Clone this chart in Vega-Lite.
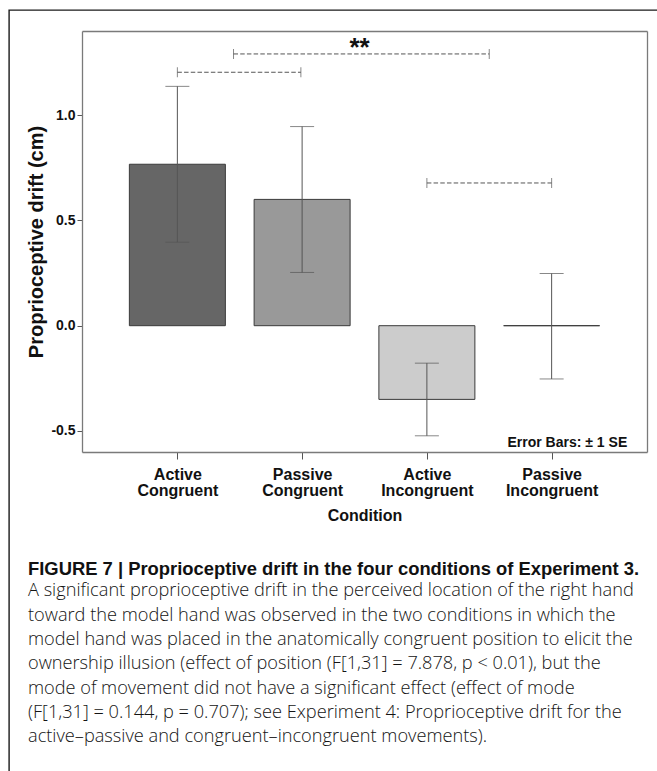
{
  "$schema": "https://vega.github.io/schema/vega-lite/v6.json",
  "width": 648,
  "height": 761,
  "autosize": {"type": "none"},
  "padding": {"left": 9, "top": 10, "right": 0, "bottom": 0},
  "background": "white",
  "config": {
    "font": "Liberation Sans",
    "view": {"stroke": "#1a1a1a", "strokeWidth": 1.4, "strokeDash": [648, 1409, 761, 0], "fill": "white"},
    "axis": {"grid": false, "labelFlush": false, "labelOverlap": false}
  },
  "datasets": {
    "bars": [
      {"cond": "Active Congruent", "x": 1, "mean": 0.767, "lo": 0.397, "hi": 1.137},
      {"cond": "Passive Congruent", "x": 2, "mean": 0.600, "lo": 0.253, "hi": 0.946},
      {"cond": "Active Incongruent", "x": 3, "mean": -0.350, "lo": -0.523, "hi": -0.178},
      {"cond": "Passive Incongruent", "x": 4, "mean": 0.0, "lo": -0.253, "hi": 0.248}
    ],
    "brackets": [
      {"x": 1.0, "x2": 1.99, "y": 1.204},
      {"x": 1.45, "x2": 3.5, "y": 1.291},
      {"x": 3.0, "x2": 4.0, "y": 0.678}
    ],
    "stars": [{"x": 2.46, "y": 1.28, "label": "**"}],
    "note": [{"x": 4.606, "y": -0.574, "label": "Error Bars: ± 1 SE"}]
  },
  "title": {
    "text": "FIGURE 7 | Proprioceptive drift in the four conditions of Experiment 3.",
    "subtitle": [
      "A significant proprioceptive drift in the perceived location of the right hand",
      "toward the model hand was observed in the two conditions in which the",
      "model hand was placed in the anatomically congruent position to elicit the",
      "ownership illusion (effect of position (F[1,31] = 7.878, p < 0.01), but the",
      "mode of movement did not have a significant effect (effect of mode",
      "(F[1,31] = 0.144, p = 0.707); see Experiment 4: Proprioceptive drift for the",
      "active–passive and congruent–incongruent movements)."
    ],
    "orient": "bottom",
    "anchor": "start",
    "frame": "group",
    "offset": -211,
    "dx": 19,
    "font": "Liberation Sans",
    "fontSize": 18.4,
    "fontWeight": "bold",
    "color": "#111111",
    "subtitleFont": "Open Sans",
    "subtitleFontSize": 18.2,
    "subtitleFontWeight": 300,
    "subtitleColor": "#141414",
    "subtitleLineHeight": 24.3,
    "subtitlePadding": 4
  },
  "resolve": {"axis": {"x": "independent", "y": "independent"}},
  "layer": [
    {
      "data": {"name": "bars"},
      "mark": {"type": "bar", "width": 96, "stroke": "#3a3a3a", "strokeWidth": 1},
      "encoding": {
        "x": {
          "field": "x", "type": "quantitative",
          "scale": {"domain": [0.2756, 4.7244], "range": [73, 638], "nice": false, "zero": false},
          "axis": {
            "orient": "bottom", "offset": -319, "values": [1, 2, 3, 4],
            "labelExpr": "datum.value == 1 ? ['Active','Congruent'] : datum.value == 2 ? ['Passive','Congruent'] : datum.value == 3 ? ['Active','Incongruent'] : ['Passive','Incongruent']",
            "labelFont": "Liberation Sans", "labelFontSize": 16, "labelFontWeight": "bold", "labelColor": "#111111",
            "labelLineHeight": 16.5, "labelPadding": 7, "labelBaseline": "top",
            "tickSize": 7, "tickColor": "#555555", "tickWidth": 1,
            "domainColor": "#7a7a7a", "domainWidth": 1.3,
            "title": "Condition", "titleFont": "Liberation Sans", "titleFontSize": 16, "titleFontWeight": "bold", "titleColor": "#111111", "titlePadding": 9
          }
        },
        "y": {
          "field": "mean", "type": "quantitative",
          "scale": {"domain": [-0.6, 1.4], "range": [442, 21], "nice": false, "zero": false},
          "axis": {
            "orient": "left", "offset": -73, "values": [-0.5, 0, 0.5, 1.0],
            "labelExpr": "replace(format(datum.value, '.1f'), '\u2212', '-')",
            "labelFont": "Liberation Sans", "labelFontSize": 14, "labelFontWeight": "bold", "labelColor": "#111111",
            "labelPadding": 2,
            "tickSize": 5, "tickColor": "#555555", "tickWidth": 1,
            "domainColor": "#7a7a7a", "domainWidth": 1.3,
            "title": "Proprioceptive drift (cm)", "titleFont": "Liberation Sans", "titleFontSize": 20, "titleFontWeight": "bold", "titleColor": "#111111", "titlePadding": 4
          }
        },
        "y2": {"datum": 0},
        "color": {
          "field": "cond", "type": "nominal",
          "scale": {"domain": ["Active Congruent", "Passive Congruent", "Active Incongruent", "Passive Incongruent"], "range": ["#666666", "#999999", "#cccccc", "#000000"]},
          "legend": null
        }
      }
    },
    {
      "data": {"name": "bars"},
      "mark": {"type": "errorbar", "ticks": {"size": 24, "thickness": 1}, "color": "#555555", "thickness": 1},
      "encoding": {
        "x": {"field": "x", "type": "quantitative", "scale": {"domain": [0.2756, 4.7244], "range": [73, 638], "nice": false, "zero": false}, "axis": null},
        "y": {"field": "lo", "type": "quantitative", "scale": {"domain": [-0.6, 1.4], "range": [442, 21], "nice": false, "zero": false}, "axis": null},
        "y2": {"field": "hi"}
      }
    },
    {
      "data": {"name": "brackets"},
      "mark": {"type": "rule", "color": "#555555", "strokeWidth": 1, "strokeDash": [4.5, 2.2]},
      "encoding": {
        "x": {"field": "x", "type": "quantitative", "scale": {"domain": [0.2756, 4.7244], "range": [73, 638], "nice": false, "zero": false}, "axis": null},
        "x2": {"field": "x2"},
        "y": {"field": "y", "type": "quantitative", "scale": {"domain": [-0.6, 1.4], "range": [442, 21], "nice": false, "zero": false}, "axis": null}
      }
    },
    {
      "data": {"name": "brackets"},
      "mark": {"type": "tick", "orient": "vertical", "size": 10, "thickness": 1, "color": "#555555"},
      "encoding": {
        "x": {"field": "x", "type": "quantitative", "scale": {"domain": [0.2756, 4.7244], "range": [73, 638], "nice": false, "zero": false}, "axis": null},
        "y": {"field": "y", "type": "quantitative", "scale": {"domain": [-0.6, 1.4], "range": [442, 21], "nice": false, "zero": false}, "axis": null}
      }
    },
    {
      "data": {"name": "brackets"},
      "mark": {"type": "tick", "orient": "vertical", "size": 10, "thickness": 1, "color": "#555555"},
      "encoding": {
        "x": {"field": "x2", "type": "quantitative", "scale": {"domain": [0.2756, 4.7244], "range": [73, 638], "nice": false, "zero": false}, "axis": null},
        "y": {"field": "y", "type": "quantitative", "scale": {"domain": [-0.6, 1.4], "range": [442, 21], "nice": false, "zero": false}, "axis": null}
      }
    },
    {
      "data": {"name": "stars"},
      "mark": {"type": "text", "font": "Liberation Sans", "fontSize": 26, "fontWeight": "bold", "align": "center", "baseline": "alphabetic", "color": "#111111"},
      "encoding": {
        "x": {"field": "x", "type": "quantitative", "scale": {"domain": [0.2756, 4.7244], "range": [73, 638], "nice": false, "zero": false}, "axis": null},
        "y": {"field": "y", "type": "quantitative", "scale": {"domain": [-0.6, 1.4], "range": [442, 21], "nice": false, "zero": false}, "axis": null},
        "text": {"field": "label"}
      }
    },
    {
      "data": {"name": "note"},
      "mark": {"type": "text", "font": "Liberation Sans", "fontSize": 14, "fontWeight": "bold", "align": "right", "baseline": "alphabetic", "color": "#111111"},
      "encoding": {
        "x": {"field": "x", "type": "quantitative", "scale": {"domain": [0.2756, 4.7244], "range": [73, 638], "nice": false, "zero": false},
              "axis": {"orient": "top", "offset": -21, "labels": false, "ticks": false, "title": null, "domainColor": "#7a7a7a", "domainWidth": 1.3}},
        "y": {"field": "y", "type": "quantitative", "scale": {"domain": [-0.6, 1.4], "range": [442, 21], "nice": false, "zero": false},
              "axis": {"orient": "right", "offset": -10, "labels": false, "ticks": false, "title": null, "domainColor": "#7a7a7a", "domainWidth": 1.3}},
        "text": {"field": "label"}
      }
    }
  ]
}
